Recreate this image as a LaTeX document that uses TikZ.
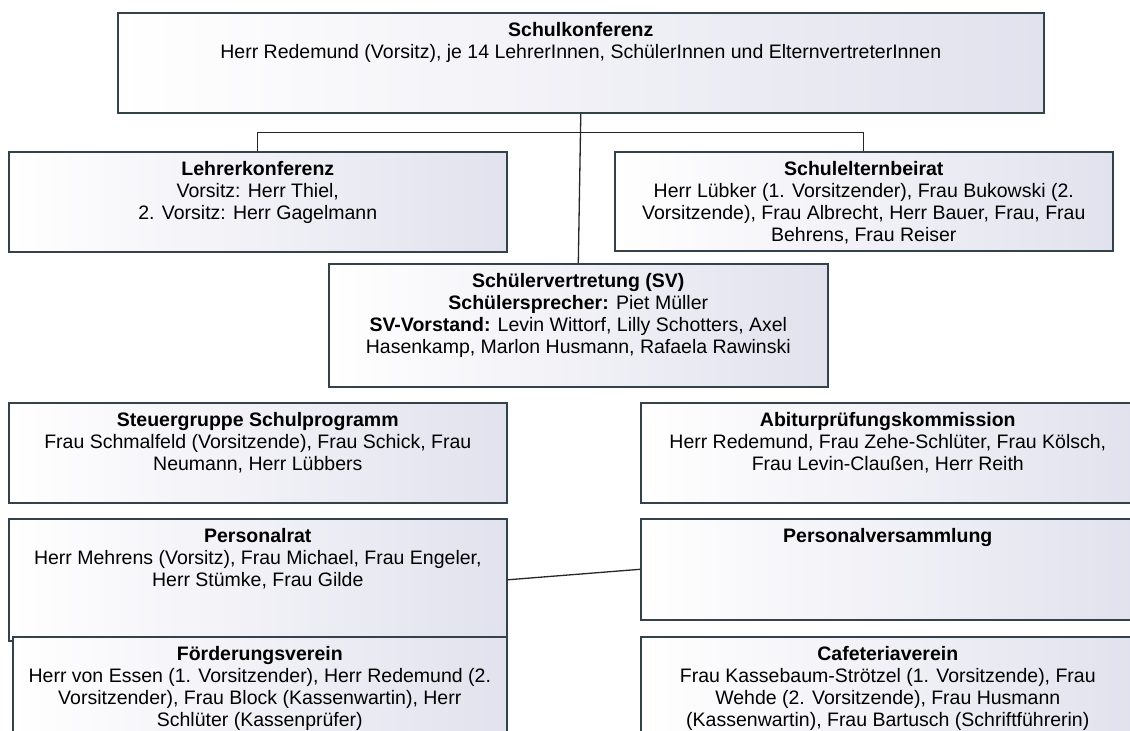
\documentclass[tikz,border=0pt]{standalone}
\usepackage{fontspec}
\setmainfont{Liberation Sans}
\usepackage{tikz}
\usetikzlibrary{positioning}
\definecolor{boxline}{RGB}{52,66,76}
\definecolor{boxfill}{RGB}{226,226,238}
\newcommand{\ttl}[1]{\textbf{\vphantom{Ü}#1}}
\tikzset{
	orgbox/.style={draw=boxline, line width=1.6pt, left color=white, right color=boxfill, inner sep=0pt, anchor=north west},
	orgtext/.style={anchor=north, align=center, inner sep=0pt, font=\fontsize{19.5}{22}\selectfont},
	orgline/.style={draw=black!85, line width=1.3pt}
}

\begin{document}
\begin{tikzpicture}[x=1pt,y=-1pt]
	\clip (0,0) rectangle (1130,731);
	\node[orgbox, minimum width=926pt, minimum height=100pt] (skon) at (117,12) {};
	\node[orgbox, minimum width=498pt, minimum height=100pt] (lkon) at (8,151) {};
	\node[orgbox, minimum width=498pt, minimum height=99pt] (sebr) at (614,151) {};
	\node[orgbox, minimum width=499pt, minimum height=123pt] (sv) at (328,263) {};
	\node[orgbox, minimum width=498pt, minimum height=100pt] (steu) at (8,402) {};
	\node[orgbox, minimum width=494pt, minimum height=100pt] (abi) at (640,402) {};
	\node[orgbox, minimum width=498pt, minimum height=122pt] (prat) at (8,518) {};
	\node[orgbox, minimum width=494pt, minimum height=101pt] (pver) at (640,518) {};
	\node[orgbox, minimum width=494pt, minimum height=110pt] (foev) at (12,636) {};
	\node[orgbox, minimum width=494pt, minimum height=110pt] (cafe) at (640,636) {};

	\node[orgtext] (skon-t) at ([yshift=-8pt]skon.north) {\ttl{Schulkonferenz}\\Herr Redemund (Vorsitz), je 14 LehrerInnen, SchülerInnen und ElternvertreterInnen};
	\node[orgtext] (lkon-t) at ([yshift=-8pt]lkon.north) {\ttl{Lehrerkonferenz}\\Vorsitz: Herr Thiel,\\2. Vorsitz: Herr Gagelmann};
	\node[orgtext] (sebr-t) at ([yshift=-8pt]sebr.north) {\ttl{Schulelternbeirat}\\Herr Lübker (1. Vorsitzender), Frau Bukowski (2.\\Vorsitzende), Frau Albrecht, Herr Bauer, Frau, Frau\\Behrens, Frau Reiser};
	\node[orgtext] (sv-t) at ([yshift=-8pt]sv.north) {\ttl{Schülervertretung (SV)}\\\textbf{Schülersprecher:} Piet Müller\\\textbf{SV-Vorstand:} Levin Wittorf, Lilly Schotters, Axel\\Hasenkamp, Marlon Husmann, Rafaela Rawinski};
	\node[orgtext] (steu-t) at ([yshift=-8pt]steu.north) {\ttl{Steuergruppe Schulprogramm}\\Frau Schmalfeld (Vorsitzende), Frau Schick, Frau\\Neumann, Herr Lübbers};
	\node[orgtext] (abi-t) at ([yshift=-8pt]abi.north) {\ttl{Abiturprüfungskommission}\\Herr Redemund, Frau Zehe-Schlüter, Frau Kölsch,\\Frau Levin-Claußen, Herr Reith};
	\node[orgtext] (prat-t) at ([yshift=-8pt]prat.north) {\ttl{Personalrat}\\Herr Mehrens (Vorsitz), Frau Michael, Frau Engeler,\\Herr Stümke, Frau Gilde};
	\node[orgtext] (pver-t) at ([yshift=-8pt]pver.north) {\ttl{Personalversammlung}};
	\node[orgtext] (foev-t) at ([yshift=-8pt]foev.north) {\ttl{Förderungsverein}\\Herr von Essen (1. Vorsitzender), Herr Redemund (2.\\Vorsitzender), Frau Block (Kassenwartin), Herr\\Schlüter (Kassenprüfer)};
	\node[orgtext] (cafe-t) at ([yshift=-8pt]cafe.north) {\ttl{Cafeteriaverein}\\Frau Kassebaum-Strötzel (1. Vorsitzende), Frau\\Wehde (2. Vorsitzende), Frau Husmann\\(Kassenwartin), Frau Bartusch (Schriftführerin)};

	\coordinate (fork) at ([yshift=-19pt]skon.south);
	\draw[orgline] (skon.south) -- (sv.north);
	\draw[orgline] (lkon.north) |- (fork) -| (sebr.north);
	\draw[orgline] (prat.east) -- (pver.west);
\end{tikzpicture}
\end{document}
